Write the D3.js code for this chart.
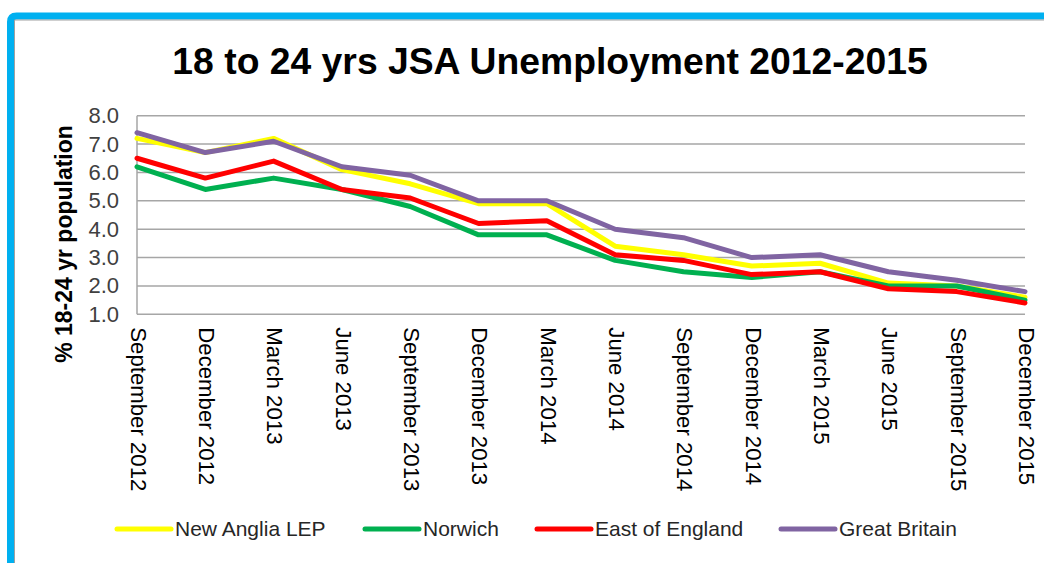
<!DOCTYPE html>
<html>
<head>
<meta charset="utf-8">
<script src="https://cdn.jsdelivr.net/npm/d3@7"></script>
<style>
  html, body { margin: 0; padding: 0; background: #fff; }
  svg { display: block; }
  text { font-family: "Liberation Sans", Arial, sans-serif; }
</style>
</head>
<body>
<svg id="chart" width="1044" height="563"></svg>
<script>
const categories = ["September 2012","December 2012","March 2013","June 2013","September 2013","December 2013","March 2014","June 2014","September 2014","December 2014","March 2015","June 2015","September 2015","December 2015"];
const newAnglia = [7.2, 6.7, 7.2, 6.1, 5.6, 4.9, 4.9, 3.4, 3.1, 2.7, 2.8, 2.1, 2.0, 1.6];
const norwich   = [6.2, 5.4, 5.8, 5.4, 4.8, 3.8, 3.8, 2.9, 2.5, 2.3, 2.5, 2.0, 2.0, 1.5];
const eastEng   = [6.5, 5.8, 6.4, 5.4, 5.1, 4.2, 4.3, 3.1, 2.9, 2.4, 2.5, 1.9, 1.8, 1.4];
const greatBrit = [7.4, 6.7, 7.1, 6.2, 5.9, 5.0, 5.0, 4.0, 3.7, 3.0, 3.1, 2.5, 2.2, 1.8];
const seriesNames = ["New Anglia LEP", "Norwich", "East of England", "Great Britain"];
const yTicks = [1, 2, 3, 4, 5, 6, 7, 8];
const titleText = "18 to 24 yrs JSA Unemployment 2012-2015";
const yTitle = "% 18-24 yr population";

const colors = ["#FFFF00", "#00B050", "#FF0000", "#8064A2"];
const seriesData = [newAnglia, norwich, eastEng, greatBrit];

const svg = d3.select("#chart");

// frame: blue border top & left
svg.append("path")
  .attr("d", "M10.5,563 L10.5,22 Q10.5,16 16.5,16 L1044,16")
  .attr("fill", "none").attr("stroke", "#00B0F0").attr("stroke-width", 7);
svg.append("path")
  .attr("d", "M14.5,563 L14.5,20 L1044,20")
  .attr("fill", "none").attr("stroke", "#A0A0A0").attr("stroke-width", 1);

const x = d3.scalePoint().domain(categories).range([137, 1025]);
const y = d3.scaleLinear().domain([1, 8]).range([314.3, 115.7]);

// gridlines
svg.append("g").selectAll("line").data(yTicks).join("line")
  .attr("x1", 137).attr("x2", 1025)
  .attr("y1", d => y(d)).attr("y2", d => y(d))
  .attr("stroke", "#A6A6A6").attr("stroke-width", 1.5);
// left axis line
svg.append("line").attr("x1", 137).attr("x2", 137).attr("y1", y(8)).attr("y2", y(1))
  .attr("stroke", "#A6A6A6").attr("stroke-width", 1.5);

// y axis ticks
const yAxis = d3.axisLeft(y).tickValues(yTicks).tickFormat(d3.format(".1f")).tickSize(0).tickPadding(18);
const yg = svg.append("g").attr("transform", "translate(137,0)").call(yAxis);
yg.select(".domain").remove();
yg.selectAll("text").attr("font-size", 22).attr("fill", "#404040")
  .attr("font-family", "'Liberation Sans', Arial, sans-serif");

// x axis labels
const xAxis = d3.axisBottom(x).tickSize(0).tickPadding(0);
const xg = svg.append("g").attr("transform", "translate(0,314.3)").call(xAxis);
xg.select(".domain").remove();
xg.selectAll("text")
  .attr("font-size", 22.2).attr("fill", "#000")
  .attr("font-family", "'Liberation Sans', Arial, sans-serif")
  .attr("text-anchor", "start")
  .attr("transform", "rotate(90)")
  .attr("x", 13).attr("y", 0).attr("dy", "0.3em");

// lines
const line = d3.line().x((d, i) => x(categories[i])).y(d => y(d));
svg.append("g").selectAll("path").data(seriesData).join("path")
  .attr("d", d => line(d))
  .attr("fill", "none")
  .attr("stroke", (d, i) => colors[i])
  .attr("stroke-width", 5)
  .attr("stroke-linejoin", "round")
  .attr("stroke-linecap", "round");

// title
svg.append("text").attr("x", 550).attr("y", 74).attr("text-anchor", "middle")
  .attr("font-size", 37.3).attr("font-weight", "bold").attr("fill", "#000").text(titleText);

// y title
svg.append("text").attr("transform", "translate(72,244) rotate(-90)")
  .attr("text-anchor", "middle").attr("font-size", 23).attr("font-weight", "bold")
  .attr("fill", "#000").text(yTitle);

// legend
const legendX = [117, 365, 537, 781];
const lg = svg.append("g").selectAll("g").data(seriesNames).join("g")
  .attr("transform", (d, i) => `translate(${legendX[i]},529)`);
lg.append("line").attr("x1", 0).attr("x2", 54).attr("y1", 0).attr("y2", 0)
  .attr("stroke", (d, i) => colors[i]).attr("stroke-width", 5).attr("stroke-linecap", "round");
lg.append("text").attr("x", 58).attr("y", 0).attr("dy", "0.35em")
  .attr("font-size", 21).attr("fill", "#262626").text(d => d);
</script>
</body>
</html>
